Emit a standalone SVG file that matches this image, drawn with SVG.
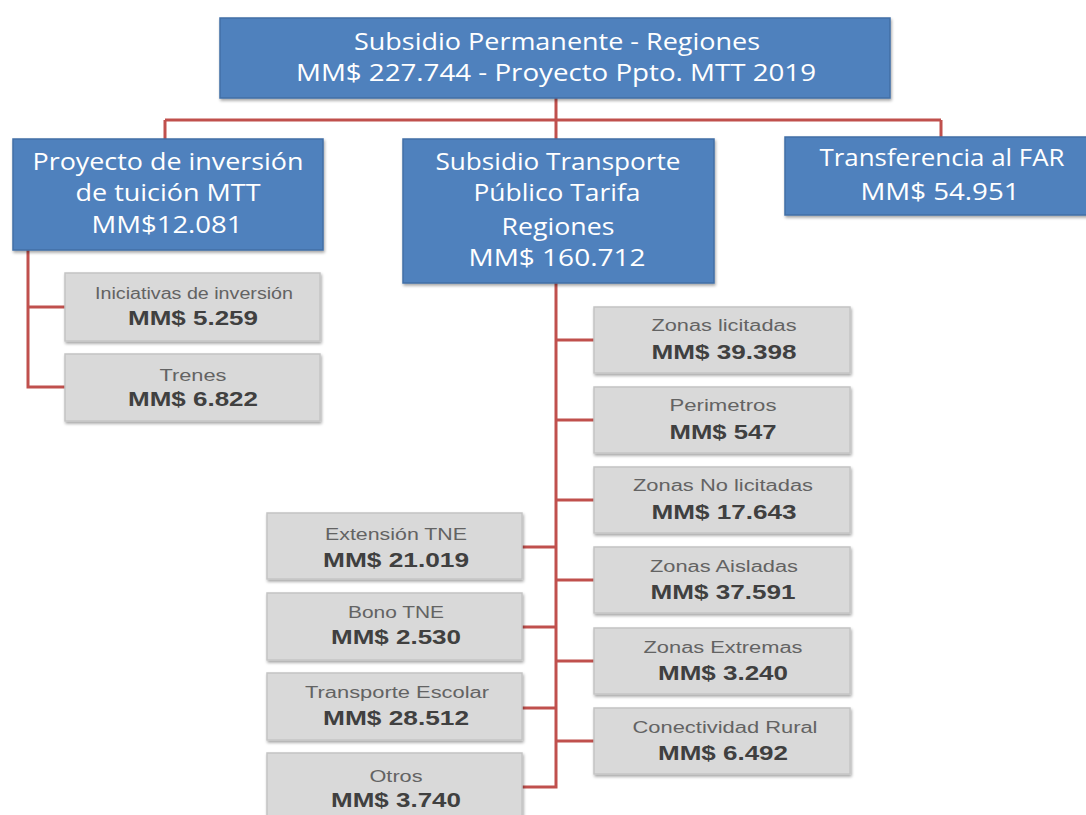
<svg xmlns="http://www.w3.org/2000/svg" width="1086" height="815" viewBox="0 0 1086 815">
<defs>
<filter id="sh" x="-5%" y="-5%" width="115%" height="125%">
<feDropShadow dx="1" dy="2" stdDeviation="1.5" flood-color="#000" flood-opacity="0.35"/>
</filter>
</defs>
<style>
.blue{fill:#4f81bd;stroke:#416fa6;stroke-width:1.5;filter:url(#sh)}
.gray{fill:#d9d9d9;stroke:#c4c4c4;stroke-width:1.5;filter:url(#sh)}
.bt{font-family:"Open Sans","Liberation Sans",sans-serif;font-size:23px;fill:#fff;text-anchor:middle}
.t1{font-family:"Liberation Sans",Arial,sans-serif;font-size:16px;fill:#636363;text-anchor:middle}
.t2{font-family:"Liberation Sans",Arial,sans-serif;font-size:21px;font-weight:bold;fill:#404040;text-anchor:middle}
.con{fill:none;stroke:#c0504d;stroke-width:3}
</style>
<g id="connectors">
<path class="con" d="M556 98 V120 M165 120 H941 M165 120 V139 M556 120 V139 M941 120 V137"/>
<path class="con" d="M28 250 V387 H65 M28 307 H65"/>
<path class="con" d="M556 283 V787 H522 M556 340 H594 M556 420 H594 M556 500 H594 M556 580 H594 M556 661 H594 M556 741 H594 M522 547 H556 M522 627 H556 M522 708 H556"/>
</g>
<g id="root">
<rect class="blue" x="220" y="18" width="670" height="80"/>
<text class="bt" x="557" y="50" textLength="406" lengthAdjust="spacingAndGlyphs">Subsidio Permanente - Regiones</text>
<text class="bt" x="556" y="81" textLength="520" lengthAdjust="spacingAndGlyphs">MM$ 227.744 - Proyecto Ppto. MTT 2019</text>
</g>
<g id="proyecto">
<rect class="blue" x="13" y="139" width="310" height="111"/>
<text class="bt" x="168" y="170" textLength="271" lengthAdjust="spacingAndGlyphs">Proyecto de inversión</text>
<text class="bt" x="168" y="201" textLength="185" lengthAdjust="spacingAndGlyphs">de tuición MTT</text>
<text class="bt" x="167" y="233" textLength="151" lengthAdjust="spacingAndGlyphs">MM$12.081</text>
</g>
<g id="subsidio">
<rect class="blue" x="403" y="139" width="311" height="144"/>
<text class="bt" x="558" y="170" textLength="245" lengthAdjust="spacingAndGlyphs">Subsidio Transporte</text>
<text class="bt" x="557" y="201" textLength="167" lengthAdjust="spacingAndGlyphs">Público Tarifa</text>
<text class="bt" x="558" y="235" textLength="113" lengthAdjust="spacingAndGlyphs">Regiones</text>
<text class="bt" x="557" y="266" textLength="177" lengthAdjust="spacingAndGlyphs">MM$ 160.712</text>
</g>
<g id="far">
<rect class="blue" x="785" y="137" width="310" height="78"/>
<text class="bt" x="942" y="166" textLength="245" lengthAdjust="spacingAndGlyphs">Transferencia al FAR</text>
<text class="bt" x="940" y="200" textLength="159" lengthAdjust="spacingAndGlyphs">MM$ 54.951</text>
</g>
<g id="iniciativas">
<rect class="gray" x="65" y="273" width="255" height="68"/>
<text class="t1" x="194" y="299" textLength="198" lengthAdjust="spacingAndGlyphs">Iniciativas de inversión</text>
<text class="t2" x="193" y="325" textLength="130" lengthAdjust="spacingAndGlyphs">MM$ 5.259</text>
</g>
<g id="trenes">
<rect class="gray" x="65" y="354" width="255" height="67"/>
<text class="t1" x="193" y="381" textLength="67" lengthAdjust="spacingAndGlyphs">Trenes</text>
<text class="t2" x="193" y="406" textLength="130" lengthAdjust="spacingAndGlyphs">MM$ 6.822</text>
</g>
<g id="zonas-licitadas">
<rect class="gray" x="594" y="307" width="256" height="66"/>
<text class="t1" x="724" y="331" textLength="145" lengthAdjust="spacingAndGlyphs">Zonas licitadas</text>
<text class="t2" x="724" y="359" textLength="145" lengthAdjust="spacingAndGlyphs">MM$ 39.398</text>
</g>
<g id="perimetros">
<rect class="gray" x="594" y="387" width="256" height="66"/>
<text class="t1" x="723" y="411" textLength="107" lengthAdjust="spacingAndGlyphs">Perimetros</text>
<text class="t2" x="723" y="439" textLength="107" lengthAdjust="spacingAndGlyphs">MM$ 547</text>
</g>
<g id="zonas-no-licitadas">
<rect class="gray" x="594" y="467" width="256" height="66"/>
<text class="t1" x="723" y="491" textLength="180" lengthAdjust="spacingAndGlyphs">Zonas No licitadas</text>
<text class="t2" x="724" y="519" textLength="145" lengthAdjust="spacingAndGlyphs">MM$ 17.643</text>
</g>
<g id="zonas-aisladas">
<rect class="gray" x="594" y="547" width="256" height="66"/>
<text class="t1" x="724" y="572" textLength="148" lengthAdjust="spacingAndGlyphs">Zonas Aisladas</text>
<text class="t2" x="723" y="599" textLength="145" lengthAdjust="spacingAndGlyphs">MM$ 37.591</text>
</g>
<g id="zonas-extremas">
<rect class="gray" x="594" y="628" width="256" height="66"/>
<text class="t1" x="723" y="653" textLength="159" lengthAdjust="spacingAndGlyphs">Zonas Extremas</text>
<text class="t2" x="723" y="680" textLength="130" lengthAdjust="spacingAndGlyphs">MM$ 3.240</text>
</g>
<g id="conectividad-rural">
<rect class="gray" x="594" y="708" width="256" height="66"/>
<text class="t1" x="725" y="733" textLength="185" lengthAdjust="spacingAndGlyphs">Conectividad Rural</text>
<text class="t2" x="723" y="760" textLength="130" lengthAdjust="spacingAndGlyphs">MM$ 6.492</text>
</g>
<g id="extension-tne">
<rect class="gray" x="267" y="513" width="255" height="66"/>
<text class="t1" x="396" y="540" textLength="142" lengthAdjust="spacingAndGlyphs">Extensión TNE</text>
<text class="t2" x="396" y="567" textLength="146" lengthAdjust="spacingAndGlyphs">MM$ 21.019</text>
</g>
<g id="bono-tne">
<rect class="gray" x="267" y="593" width="255" height="67"/>
<text class="t1" x="396" y="618" textLength="96" lengthAdjust="spacingAndGlyphs">Bono TNE</text>
<text class="t2" x="396" y="644" textLength="130" lengthAdjust="spacingAndGlyphs">MM$ 2.530</text>
</g>
<g id="transporte-escolar">
<rect class="gray" x="267" y="673" width="255" height="67"/>
<text class="t1" x="397" y="698" textLength="184" lengthAdjust="spacingAndGlyphs">Transporte Escolar</text>
<text class="t2" x="396" y="725" textLength="146" lengthAdjust="spacingAndGlyphs">MM$ 28.512</text>
</g>
<g id="otros">
<rect class="gray" x="267" y="753" width="255" height="70"/>
<text class="t1" x="396" y="782" textLength="53" lengthAdjust="spacingAndGlyphs">Otros</text>
<text class="t2" x="396" y="807" textLength="130" lengthAdjust="spacingAndGlyphs">MM$ 3.740</text>
</g>
</svg>
